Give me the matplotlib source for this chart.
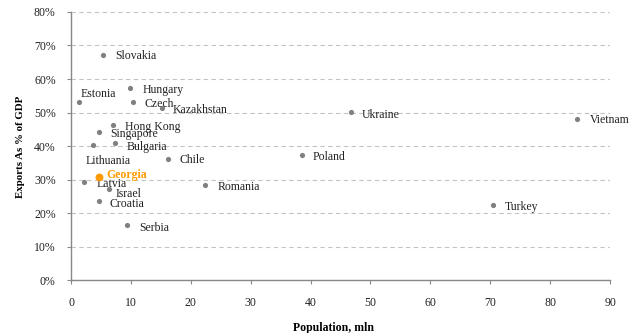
import matplotlib.pyplot as plt
from matplotlib.ticker import FuncFormatter

countries = ["Slovakia", "Hungary", "Czech", "Kazakhstan", "Estonia", "Hong Kong",
             "Singapore", "Bulgaria", "Lithuania", "Chile", "Poland", "Ukraine",
             "Vietnam", "Turkey", "Latvia", "Israel", "Croatia", "Serbia", "Romania"]
population = [5.4, 9.9, 10.4, 15.2, 1.3, 7.0, 4.6, 7.4, 3.6, 16.2, 38.5, 46.7,
              84.4, 70.4, 2.2, 6.3, 4.6, 9.4, 22.4]
exports = [67.2, 57.3, 53.1, 51.3, 53.1, 46.4, 44.3, 41.0, 40.4, 36.2, 37.2, 50.3,
           48.1, 22.4, 29.2, 27.3, 23.5, 16.4, 28.5]
# label offsets in pixels (dx, dy) from the dot to the left-centre of the text
offsets = [(12, -1), (12, -2), (11, -2), (11, -2), (2, 8), (12, -2), (12, -2), (11, -4),
           (-7, -16), (11, -1), (11, -2), (11, -3), (13, -1), (12, -2), (12, -2), (7, -5),
           (11, -3), (12, -3), (12, -2)]
highlight = "Georgia"
highlight_pop = 4.6
highlight_exp = 30.7

plt.rcParams['font.family'] = ['Liberation Serif', 'DejaVu Serif']

fig = plt.figure(figsize=(6.29, 3.33), dpi=100)
ax = fig.add_axes([0.1129, 0.159, 0.857, 0.805])

ax.scatter(population, exports, s=14, color='#808080', zorder=3, linewidths=0)
for name, x, y, (dx, dy) in zip(countries, population, exports, offsets):
    ax.annotate(name, (x, y), xytext=(dx, dy), textcoords='offset pixels',
                fontsize=8.5, color='#222222', va='center', ha='left')

ax.scatter([highlight_pop], [highlight_exp], s=32, color='#FF9900', zorder=4, linewidths=0)
ax.annotate(highlight, (highlight_pop, highlight_exp), xytext=(8, 2),
            textcoords='offset pixels', fontsize=8.5, color='#FF9900',
            fontweight='bold', va='center', ha='left')

ax.set_xlim(0, 90)
ax.set_ylim(0, 80)
ax.set_xticks(range(0, 91, 10))
ax.set_yticks(range(0, 81, 10))
ax.yaxis.set_major_formatter(FuncFormatter(lambda v, p: f"{int(v)}%"))
ax.tick_params(labelsize=8.5, colors='#888888', length=3, width=0.8)
ax.tick_params(axis='x', pad=9)
ax.tick_params(axis='y', pad=8)
for lbl in ax.get_xticklabels() + ax.get_yticklabels():
    lbl.set_color('#222222')

ax.grid(axis='y', linestyle=(0, (4, 3)), color='#c4c4c4', linewidth=0.8)
ax.set_axisbelow(True)
for side in ['top', 'right']:
    ax.spines[side].set_visible(False)
for side in ['left', 'bottom']:
    ax.spines[side].set_color('#888888')
    ax.spines[side].set_linewidth(1.0)

fig.text(0.530, 0.015, "Population, mln", ha='center', va='center',
         fontsize=8.5, fontweight='bold')
fig.text(0.032, 0.559, "Exports As % of GDP", ha='center', va='center',
         rotation=90, fontsize=7.8, fontweight='bold')

fig.savefig("out.png", dpi=100)
